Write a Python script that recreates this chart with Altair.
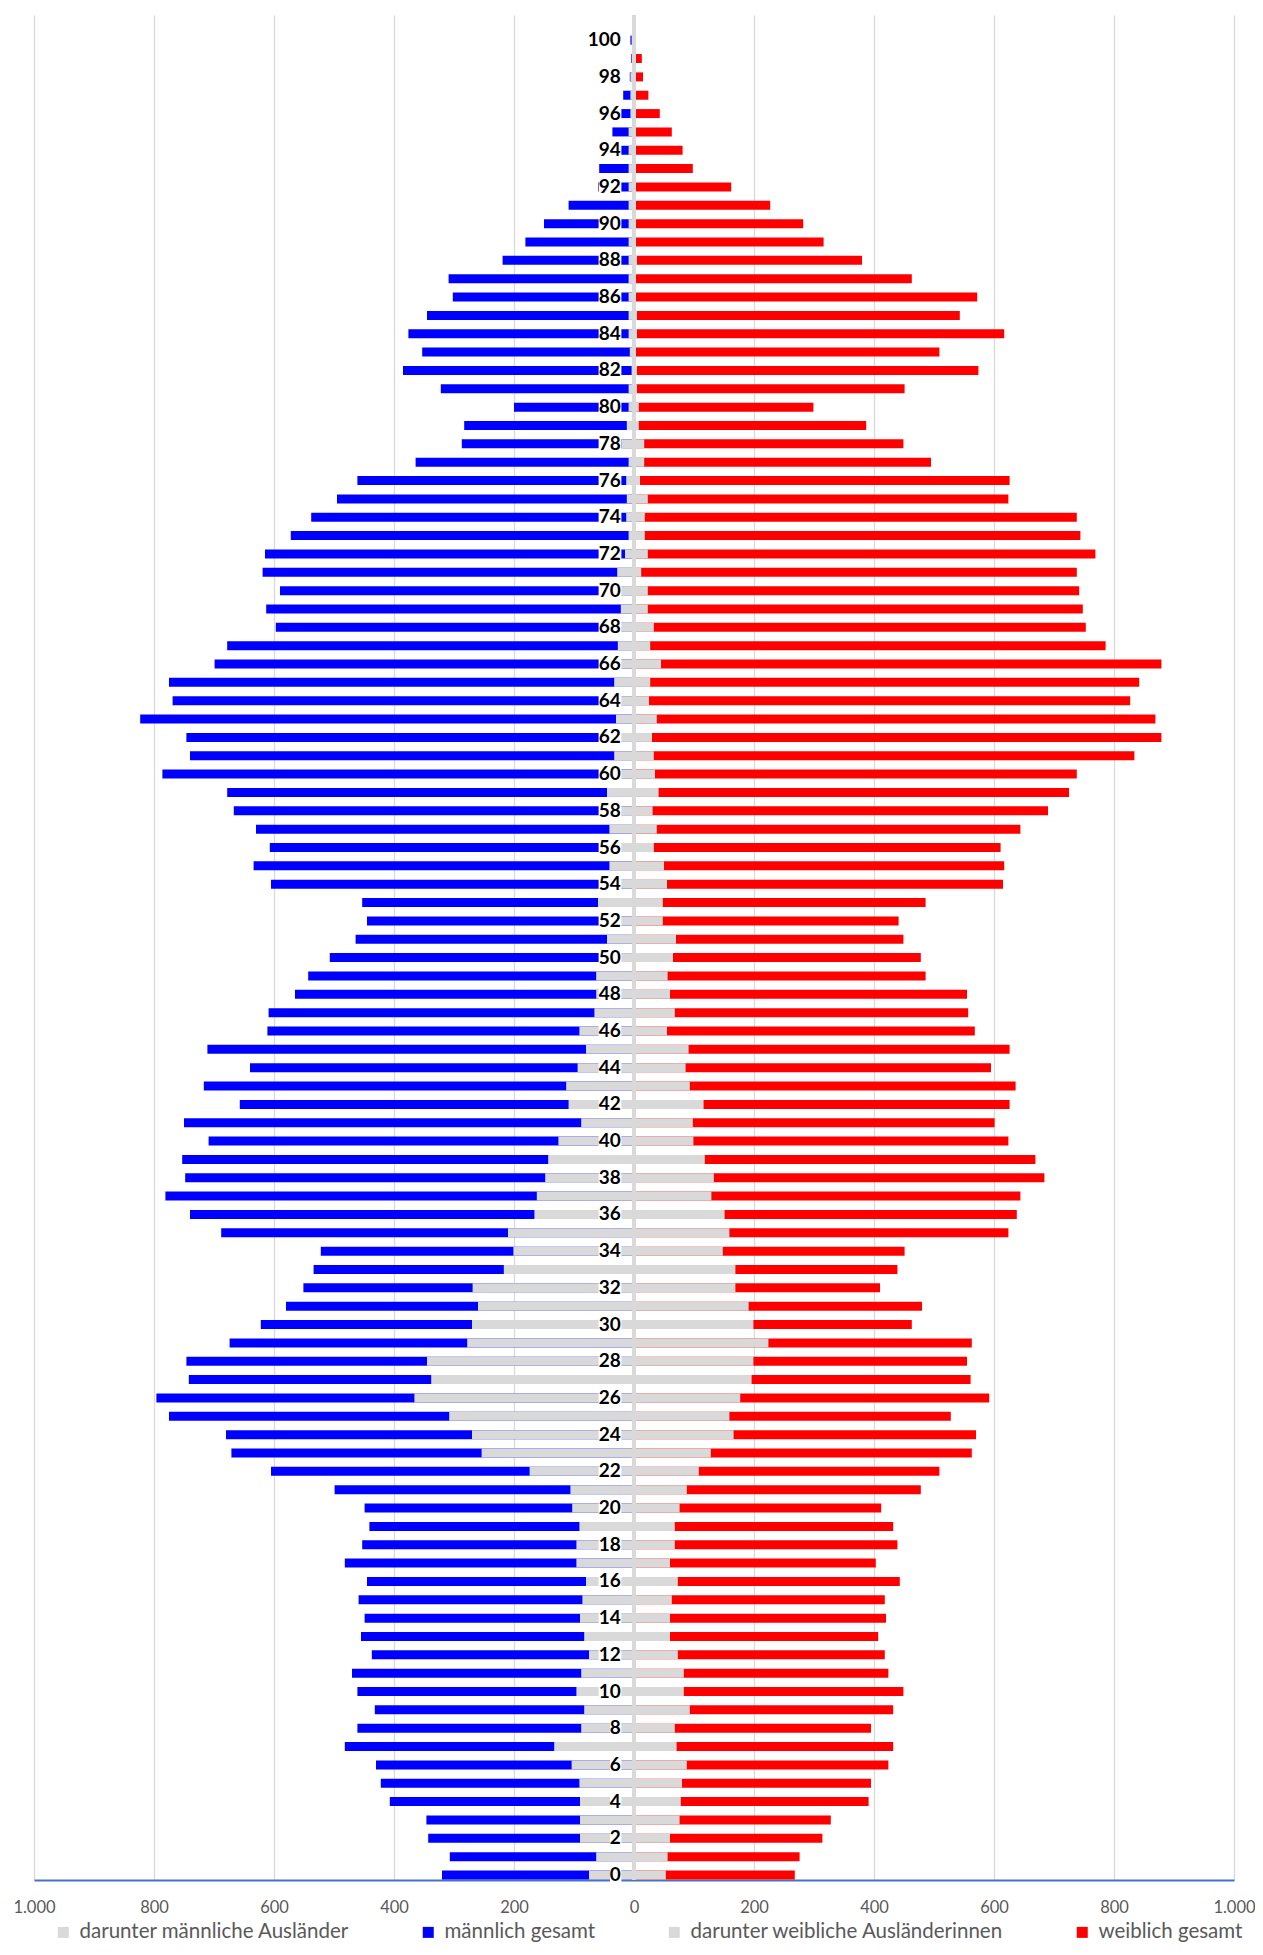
import altair as alt
import pandas as pd

# ---------------- data ----------------
ages = list(range(0, 102))

male_total = [
    320, 307, 343, 346, 407, 422, 430, 482, 461, 432,
    461, 470, 437, 455, 449, 459, 445, 482, 453, 441,
    449, 499, 605, 671, 680, 775, 796, 742, 746, 674,
    622, 580, 551, 534, 522, 688, 740, 781, 748, 753,
    709, 750, 657, 717, 640, 711, 611, 609, 565, 543,
    507, 464, 445, 453, 605, 634, 607, 630, 667, 678,
    786, 740, 746, 823, 769, 775, 699, 678, 597, 613,
    590, 619, 615, 572, 538, 495, 461, 364, 287, 283,
    200, 322, 385, 353, 376, 345, 302, 309, 219, 181,
    150, 109, 60, 58, 45, 36, 27, 18, 7, 5,
    6, 3,
]

male_foreign = [
    75, 63, 90, 90, 90, 91, 104, 133, 88, 83,
    96, 88, 75, 83, 90, 86, 80, 96, 96, 91,
    103, 106, 174, 254, 270, 308, 366, 338, 345, 278,
    270, 260, 269, 217, 201, 210, 166, 162, 148, 143,
    126, 88, 109, 113, 94, 80, 91, 66, 63, 63,
    50, 45, 58, 60, 35, 41, 35, 41, 35, 45,
    32, 33, 30, 30, 30, 33, 25, 27, 22, 22,
    22, 28, 15, 9, 13, 12, 13, 9, 21, 12,
    9, 9, 4, 7, 9, 9, 9, 9, 9, 9,
    9, 9, 9, 9, 9, 9, 6, 6, 6, 4,
    4, 3,
]

female_foreign = [
    53, 56, 60, 76, 78, 80, 88, 71, 68, 93,
    83, 83, 73, 60, 60, 63, 73, 60, 68, 68,
    76, 88, 108, 128, 166, 159, 177, 196, 199, 224,
    199, 191, 169, 169, 148, 159, 151, 129, 133, 118,
    99, 98, 116, 93, 86, 91, 55, 68, 60, 56,
    65, 70, 48, 48, 55, 50, 33, 38, 31, 41,
    35, 33, 30, 38, 25, 27, 45, 27, 33, 23,
    23, 12, 23, 18, 18, 23, 10, 17, 17, 8,
    8, 5, 5, 3, 5, 5, 3, 3, 5, 2,
    2, 2, 2, 2, 2, 2, 2, 2, 2, 2,
    0, 0,
]

female_total = [
    268, 276, 314, 328, 391, 395, 424, 432, 395, 432,
    449, 424, 418, 407, 420, 418, 443, 403, 439, 432,
    412, 478, 509, 563, 570, 528, 592, 561, 555, 563,
    463, 480, 410, 439, 451, 624, 638, 644, 684, 669,
    624, 601, 626, 636, 595, 626, 568, 557, 555, 486,
    478, 449, 441, 486, 615, 617, 611, 644, 690, 725,
    738, 834, 879, 869, 827, 842, 879, 786, 753, 748,
    742, 738, 769, 744, 738, 624, 626, 495, 449, 387,
    299, 451, 574, 509, 617, 543, 572, 463, 380, 316,
    282, 227, 162, 98, 81, 63, 43, 24, 15, 13,
    0, 0,
]

label_ages = list(range(0, 101, 2))
label_texts = [str(a) for a in label_ages]

series_names = [
    "darunter männliche Ausländer",
    "männlich gesamt",
    "darunter weibliche Ausländerinnen",
    "weiblich gesamt",
]
series_colors = ["#D9D9D9", "#0000FF", "#D9D9D9", "#FF0000"]

# ---------------- tables ----------------
tot_rows = []
for a, m, f in zip(ages, male_total, female_total):
    tot_rows.append({"age": a, "series": series_names[1], "start": 0, "end": -m})
    tot_rows.append({"age": a, "series": series_names[3], "start": 0, "end": f})
tot_df = pd.DataFrame(tot_rows)

for_rows = []
for a, m, f in zip(ages, male_foreign, female_foreign):
    for_rows.append({"age": a, "series": series_names[0], "start": 0, "end": -m})
    for_rows.append({"age": a, "series": series_names[2], "start": 0, "end": f})
for_df = pd.DataFrame(for_rows)

lab_df = pd.DataFrame({"age": label_ages, "label": label_texts})
zero_df = pd.DataFrame({"v": [0]})

FONT = "Lato"

x_scale = alt.Scale(domain=[-1000, 1000], nice=False, zero=False)
y_scale = alt.Scale(domain=[0, 101.1], nice=False, zero=False)
color_scale = alt.Scale(domain=series_names, range=series_colors)

x_axis = alt.Axis(
    values=list(range(-1000, 1001, 200)),
    labelExpr="replace(format(abs(datum.value), ','), ',', '.')",
    grid=True,
    gridColor="#D9D9D9",
    gridWidth=1.3,
    domainColor="#4472C4",
    domainWidth=2,
    ticks=False,
    labelFont=FONT,
    labelFontSize=16.5,
    labelColor="#595959",
    labelPadding=19,
    labelOverlap=False,
    labelFlush=False,
    title=None,
)

legend = alt.Legend(
    title=None,
    orient="none",
    legendX=19,
    legendY=1907,
    direction="horizontal",
    columns=4,
    columnPadding=68,
    symbolType="square",
    symbolSize=121,
    symbolStrokeWidth=0,
    labelFont=FONT,
    labelFontSize=20.5,
    labelColor="#595959",
    labelOffset=6,
    labelLimit=500,
    padding=0,
)

totals = alt.Chart(tot_df).mark_bar(size=9, clip=True).encode(
    x=alt.X("start:Q", scale=x_scale, axis=x_axis),
    x2="end:Q",
    y=alt.Y("age:Q", scale=y_scale, axis=None),
    color=alt.Color("series:N", scale=color_scale, legend=legend),
)

foreign = alt.Chart(for_df).mark_bar(size=9, clip=True).encode(
    x=alt.X("start:Q", scale=x_scale),
    x2="end:Q",
    y=alt.Y("age:Q", scale=y_scale),
    color=alt.Color("series:N", scale=color_scale, legend=legend),
)

zero_line = alt.Chart(zero_df).mark_rule(color="#D9D9D9", strokeWidth=4).encode(
    x=alt.X("v:Q", scale=x_scale),
)

boxes = alt.Chart(lab_df).transform_calculate(
    bx="-21 - 19 * length(datum.label)",
    bx2="-21",
    by="datum.age - 0.46",
    by2="datum.age + 0.46",
).mark_rect(color="white").encode(
    x=alt.X("bx:Q", scale=x_scale),
    x2="bx2:Q",
    y=alt.Y("by:Q", scale=y_scale),
    y2="by2:Q",
)

labels = alt.Chart(lab_df).transform_calculate(lx="-22").mark_text(
    align="right", baseline="middle", font=FONT, fontWeight="bold",
    fontSize=19, color="#000000",
).encode(
    x=alt.X("lx:Q", scale=x_scale),
    y=alt.Y("age:Q", scale=y_scale),
    text="label:N",
)

chart = alt.layer(totals, foreign, zero_line, boxes, labels).properties(
    width=1200,
    height=1865,
    padding={"left": 26, "top": 7, "right": 21, "bottom": 67},
    autosize=alt.AutoSizeParams(type="none"),
    background="white",
).configure_view(stroke=None)

chart.save("out.html", embed_options={"renderer": "svg", "actions": False})
